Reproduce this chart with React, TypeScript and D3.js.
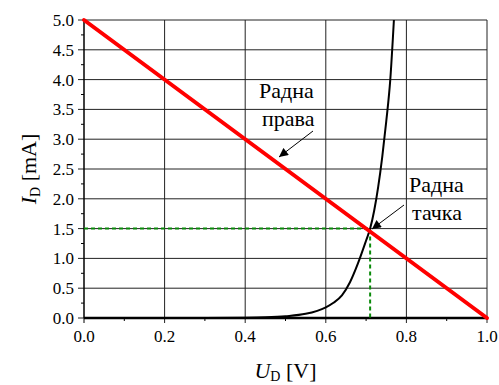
import React from "react";
import * as d3 from "d3";

// diode characteristic
const diodeU = [0, 0.1, 0.2, 0.3, 0.4, 0.45, 0.5, 0.55, 0.6, 0.62, 0.64, 0.66, 0.68, 0.7, 0.71, 0.72, 0.73, 0.74, 0.75, 0.76, 0.769];
const diodeI = [0, 0, 0, 0.001, 0.005, 0.012, 0.03, 0.07, 0.18, 0.26, 0.38, 0.6, 0.92, 1.3, 1.5, 1.8, 2.2, 2.7, 3.3, 4.0, 5.0];

// load line
const loadU = [0, 1];
const loadI = [5, 0];

// operating point
const qU = 0.71;
const qI = 1.5;

const xTicks = [0, 0.2, 0.4, 0.6, 0.8, 1.0];
const xMinor = [0.1, 0.3, 0.5, 0.7, 0.9];
const yTicks = [0, 0.5, 1, 1.5, 2, 2.5, 3, 3.5, 4, 4.5, 5];
const yMinor = [0.25, 0.75, 1.25, 1.75, 2.25, 2.75, 3.25, 3.75, 4.25, 4.75];

const W = 499;
const H = 385;
const margin = { top: 20, right: 12, bottom: 67, left: 84 };
const font = "'Liberation Serif', 'Times New Roman', serif";

const App = () => {
  const x = d3.scaleLinear().domain([0, 1]).range([margin.left, W - margin.right]);
  const y = d3.scaleLinear().domain([0, 5]).range([H - margin.bottom, margin.top]);

  const diode = diodeU.map((u, i) => [u, diodeI[i]] as [number, number]);
  const load = loadU.map((u, i) => [u, loadI[i]] as [number, number]);

  const curve = d3
    .line<[number, number]>()
    .x((d) => x(d[0]))
    .y((d) => y(d[1]))
    .curve(d3.curveMonotoneX);
  const straight = d3
    .line<[number, number]>()
    .x((d) => x(d[0]))
    .y((d) => y(d[1]));

  const x0 = x(0);
  const x1 = x(1);
  const y0 = y(0);
  const y1 = y(5);

  return (
    <div style={{ position: "absolute", left: 0, top: 0 }}>
      <svg width={W} height={H} style={{ display: "block", background: "#fff", fontFamily: font }}>
        <defs>
          <marker id="head" viewBox="0 0 10 10" refX="10" refY="5" markerWidth="11" markerHeight="9" markerUnits="userSpaceOnUse" orient="auto">
            <path d="M0,0 L10,5 L0,10 z" fill="#000" />
          </marker>
        </defs>

        {/* grid */}
        {yTicks.map((t) => (
          <line key={"gy" + t} x1={x0 - 6} x2={x1} y1={y(t)} y2={y(t)} stroke="#222" strokeWidth={1} />
        ))}
        {xTicks.slice(1).map((t) => (
          <line key={"gx" + t} x1={x(t)} x2={x(t)} y1={y1} y2={y0 + 5} stroke="#222" strokeWidth={1} />
        ))}

        {/* minor ticks */}
        {yMinor.map((t) => (
          <line key={"my" + t} x1={x0 - 3} x2={x0} y1={y(t)} y2={y(t)} stroke="#000" strokeWidth={1} />
        ))}
        {xMinor.map((t) => (
          <line key={"mx" + t} x1={x(t)} x2={x(t)} y1={y0} y2={y0 + 3} stroke="#000" strokeWidth={1} />
        ))}
        <line x1={x0} x2={x0} y1={y0 + 5} y2={y0} stroke="#000" strokeWidth={1} />

        {/* axes */}
        <line x1={x0} x2={x0} y1={y1} y2={y0} stroke="#000" strokeWidth={1.5} />
        <line x1={x0} x2={x1} y1={y0} y2={y0} stroke="#000" strokeWidth={2.5} />

        {/* tick labels */}
        {yTicks.map((t) => (
          <text key={"ly" + t} x={x0 - 10} y={y(t) + 6} textAnchor="end" fontSize={17} fontFamily={font}>
            {t.toFixed(1)}
          </text>
        ))}
        {xTicks.map((t) => (
          <text key={"lx" + t} x={x(t)} y={y0 + 24} textAnchor="middle" fontSize={17} fontFamily={font}>
            {t.toFixed(1)}
          </text>
        ))}

        {/* operating point guides */}
        <path
          d={`M${x0},${y(qI)} H${x(qU)} V${y0}`}
          fill="none"
          stroke="#0a8a0a"
          strokeWidth={2}
          strokeDasharray="4,3"
        />

        {/* diode curve */}
        <path d={curve(diode) || ""} fill="none" stroke="#000" strokeWidth={2} />

        {/* load line */}
        <path d={straight(load) || ""} fill="none" stroke="#ff0000" strokeWidth={4} strokeLinecap="round" />

        {/* annotations */}
        <g fontFamily={font} fontSize={22}>
          <text x={259} y={98}>Радна</text>
          <text x={262} y={126}>права</text>
          <text x={409} y={192}>Радна</text>
          <text x={412} y={220}>тачка</text>
        </g>
        <line x1={313} y1={131} x2={279} y2={157} stroke="#000" strokeWidth={1} markerEnd="url(#head)" />
        <line x1={404} y1={205} x2={372} y2={229} stroke="#000" strokeWidth={1} markerEnd="url(#head)" />

        {/* axis titles */}
        <text x={(x0 + x1) / 2} y={378} textAnchor="middle" fontSize={22} fontFamily={font}>
          <tspan fontStyle="italic">U</tspan>
          <tspan fontSize={14} dy={3}>D</tspan>
          <tspan dy={-3}> [V]</tspan>
        </text>
        <text transform={`translate(36,${(y0 + y1) / 2}) rotate(-90)`} textAnchor="middle" fontSize={22} fontFamily={font}>
          <tspan fontStyle="italic">I</tspan>
          <tspan fontSize={14} dy={4}>D</tspan>
          <tspan dy={-4}> [mA]</tspan>
        </text>
      </svg>
    </div>
  );
};

export default App;
